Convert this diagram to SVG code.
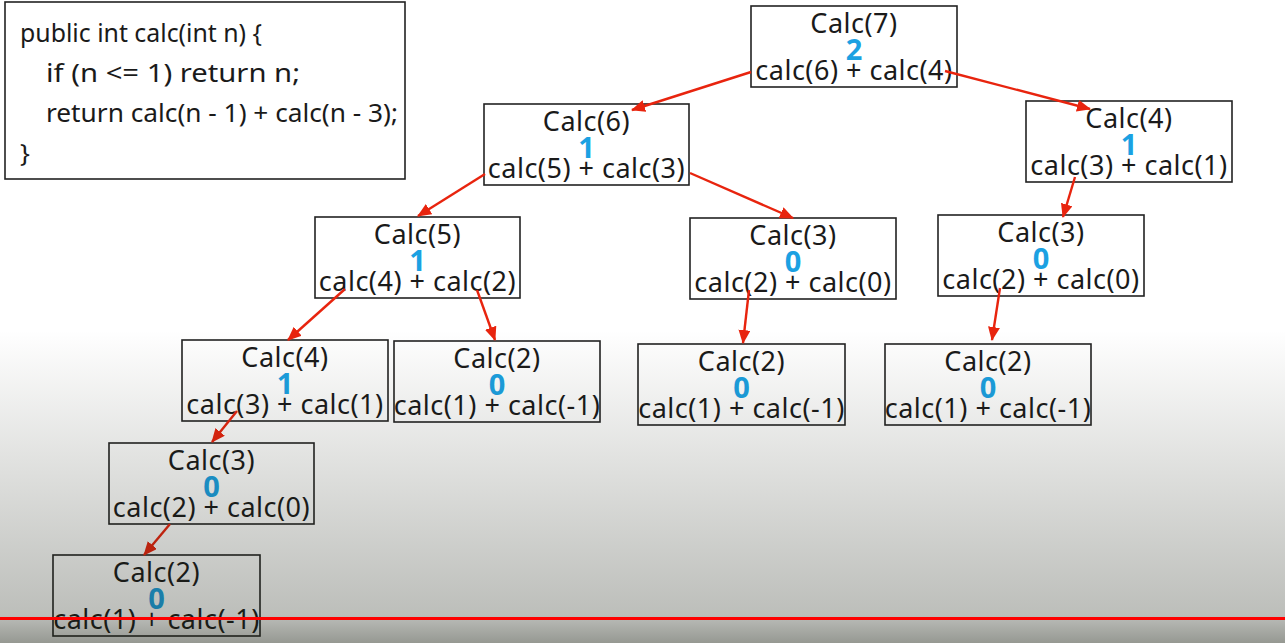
<svg xmlns="http://www.w3.org/2000/svg" width="1285" height="643" viewBox="0 0 1285 643">
<defs>
<linearGradient id="shade" x1="0" y1="0" x2="0" y2="1" gradientUnits="objectBoundingBox">
<stop offset="0" stop-color="#1a2012" stop-opacity="0"/>
<stop offset="0.35" stop-color="#1a2012" stop-opacity="0.11"/>
<stop offset="0.91" stop-color="#1a2012" stop-opacity="0.29"/>
<stop offset="1" stop-color="#1a2012" stop-opacity="0.46"/>
</linearGradient>
<marker id="ah" markerUnits="userSpaceOnUse" markerWidth="14" markerHeight="12" refX="13" refY="6" orient="auto">
<path d="M0,0 L14,6 L0,12 Z" fill="#e8240e"/>
</marker>
</defs>
<style>
.box{fill:#ffffff;stroke:#222222;stroke-width:1.6}
.t{font-family:"Noto Sans","Open Sans","DejaVu Sans",sans-serif;font-size:27px;fill:#1a1a1a;text-anchor:middle;letter-spacing:0.5px}
.n{font-family:"Noto Sans","Open Sans","DejaVu Sans",sans-serif;font-size:29px;font-weight:bold;fill:#1ba1e2;text-anchor:middle}
.code{font-family:"Noto Sans","Open Sans","DejaVu Sans",sans-serif;font-size:26px;fill:#1a1a1a}
.edge{stroke:#e8240e;stroke-width:2.4;fill:none;marker-end:url(#ah)}
</style>
<rect x="0" y="0" width="1285" height="643" fill="#ffffff"/>

<g id="code">
<rect class="box" x="5" y="2" width="400" height="177"/>
<text class="code" x="20" y="42" textLength="242" lengthAdjust="spacingAndGlyphs">public int calc(int n) {</text>
<text class="code" x="46" y="82" textLength="254" lengthAdjust="spacingAndGlyphs">if (n &lt;= 1) return n;</text>
<text class="code" x="46" y="122" textLength="352" lengthAdjust="spacingAndGlyphs">return calc(n - 1) + calc(n - 3);</text>
<text class="code" x="20" y="162">}</text>
</g>

<g id="n7">
<rect class="box" x="751" y="6" width="206" height="81"/>
<text class="t" x="854" y="33">Calc(7)</text>
<text class="n" x="854" y="60">2</text>
<text class="t" x="854" y="80">calc(6) + calc(4)</text>
</g>
<g id="n6">
<rect class="box" x="484" y="104" width="205" height="81"/>
<text class="t" x="586.5" y="131">Calc(6)</text>
<text class="n" x="586.5" y="158">1</text>
<text class="t" x="586.5" y="178">calc(5) + calc(3)</text>
</g>
<g id="n4r">
<rect class="box" x="1026" y="101" width="206" height="81"/>
<text class="t" x="1129" y="128">Calc(4)</text>
<text class="n" x="1129" y="155">1</text>
<text class="t" x="1129" y="175">calc(3) + calc(1)</text>
</g>
<g id="n5">
<rect class="box" x="315" y="217" width="205" height="81"/>
<text class="t" x="417.5" y="244">Calc(5)</text>
<text class="n" x="417.5" y="271">1</text>
<text class="t" x="417.5" y="291">calc(4) + calc(2)</text>
</g>
<g id="n3m">
<rect class="box" x="690" y="218" width="206" height="81"/>
<text class="t" x="793" y="245">Calc(3)</text>
<text class="n" x="793" y="272">0</text>
<text class="t" x="793" y="292">calc(2) + calc(0)</text>
</g>
<g id="n3r">
<rect class="box" x="938" y="215" width="206" height="81"/>
<text class="t" x="1041" y="242">Calc(3)</text>
<text class="n" x="1041" y="269">0</text>
<text class="t" x="1041" y="289">calc(2) + calc(0)</text>
</g>
<g id="n4l">
<rect class="box" x="182" y="340" width="206" height="81"/>
<text class="t" x="285" y="367">Calc(4)</text>
<text class="n" x="285" y="394">1</text>
<text class="t" x="285" y="414">calc(3) + calc(1)</text>
</g>
<g id="n2a">
<rect class="box" x="394" y="341" width="206" height="81"/>
<text class="t" x="497" y="368">Calc(2)</text>
<text class="n" x="497" y="395">0</text>
<text class="t" x="497" y="415">calc(1) + calc(-1)</text>
</g>
<g id="n2m">
<rect class="box" x="638" y="344" width="207" height="81"/>
<text class="t" x="741.5" y="371">Calc(2)</text>
<text class="n" x="741.5" y="398">0</text>
<text class="t" x="741.5" y="418">calc(1) + calc(-1)</text>
</g>
<g id="n2r">
<rect class="box" x="885" y="344" width="206" height="81"/>
<text class="t" x="988" y="371">Calc(2)</text>
<text class="n" x="988" y="398">0</text>
<text class="t" x="988" y="418">calc(1) + calc(-1)</text>
</g>
<g id="n3l">
<rect class="box" x="109" y="443" width="205" height="81"/>
<text class="t" x="211.5" y="470">Calc(3)</text>
<text class="n" x="211.5" y="497">0</text>
<text class="t" x="211.5" y="517">calc(2) + calc(0)</text>
</g>
<g id="n2b">
<rect class="box" x="53" y="555" width="207" height="81"/>
<text class="t" x="156.5" y="582">Calc(2)</text>
<text class="n" x="156.5" y="609">0</text>
<text class="t" x="156.5" y="629">calc(1) + calc(-1)</text>
</g>

<g id="connectors">
<line class="edge" x1="751" y1="72" x2="632" y2="110"/>
<line class="edge" x1="945" y1="71" x2="1090" y2="109"/>
<line class="edge" x1="485" y1="174" x2="418" y2="216"/>
<line class="edge" x1="690" y1="173" x2="793" y2="218"/>
<line class="edge" x1="1075" y1="177" x2="1063" y2="217"/>
<line class="edge" x1="345" y1="289" x2="288" y2="340"/>
<line class="edge" x1="477" y1="290" x2="495" y2="340"/>
<line class="edge" x1="749" y1="290" x2="743" y2="343"/>
<line class="edge" x1="1000" y1="288" x2="992" y2="340"/>
<line class="edge" x1="237" y1="411" x2="212" y2="442"/>
<line class="edge" x1="170" y1="524" x2="144" y2="555"/>
</g>

<rect x="0" y="330" width="1285" height="313" fill="url(#shade)"/>
<rect x="0" y="617" width="1285" height="3" fill="#ff0000"/>
</svg>
